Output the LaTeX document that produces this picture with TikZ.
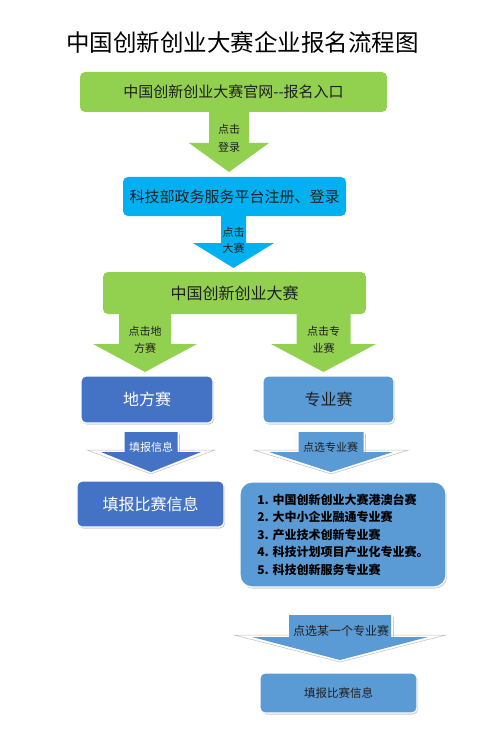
\documentclass[tikz,border=0pt]{standalone}
\usepackage{fontspec}
\setmainfont{Noto Sans CJK SC}
\usetikzlibrary{shadows}
\definecolor{grn}{HTML}{92D050}
\definecolor{cyn}{HTML}{00B0F0}
\definecolor{dkb}{HTML}{4472C4}
\definecolor{ltb}{HTML}{5B9BD5}
\definecolor{ink}{HTML}{1F1F1F}

\begin{document}
\begin{tikzpicture}[x=1pt, y=-1pt,
  box/.style={rounded corners=5pt, inner sep=0pt, align=center, text=ink},
  shbox/.style={box, draw=white, line width=1.2pt,
    drop shadow={shadow xshift=1pt, shadow yshift=-1.5pt, fill=black!40, opacity=0.5}},
  lbl/.style={inner sep=0pt, align=center, text=ink, font=\fontsize{11}{17}\selectfont}]
\useasboundingbox (0,0) rectangle (501,746);

\node[inner sep=0pt, font=\fontsize{23.5}{28}\selectfont] (title) at (242.5,42) {中国创新创业大赛企业报名流程图};

% plain block arrows
\foreach \cx/\yt/\sw/\yb/\hw/\yp/\col in {229/112/20/143/40/172/grn, 233.5/216/12.5/243/40.5/268/cyn,
    145/314/26/344/52/372/grn, 323.5/314/27/344/52.5/372/grn}
  \fill[\col] (\cx-\sw,\yt) -- (\cx+\sw,\yt) -- (\cx+\sw,\yb) -- (\cx+\hw,\yb) -- (\cx,\yp)
    -- (\cx-\hw,\yb) -- (\cx-\sw,\yb) -- cycle;

% bevelled block arrows
\foreach \cx/\yt/\sw/\yb/\hw/\ho/\yp/\col in {151/432/26.5/452/50/64/472/dkb,
    331/432/32.5/452/62/77.5/472/ltb, 340/615/51/637/88/106/660/ltb} {
  \draw[black!25, fill=white, line width=0.5pt] (\cx-\ho,\yb-2) -- (\cx,\yp+2) -- (\cx+\ho,\yb-2) -- cycle;
  \draw[black!20, line width=0.6pt] (\cx+\sw+2,\yt+2) -- (\cx+\sw+2,\yb);
  \fill[\col] (\cx-\sw,\yt) -- (\cx+\sw,\yt) -- (\cx+\sw,\yb) -- (\cx+\hw,\yb) -- (\cx,\yp)
    -- (\cx-\hw,\yb) -- (\cx-\sw,\yb) -- cycle;
}

\node[box, fill=grn, minimum width=307pt, minimum height=40pt, font=\fontsize{15}{18}\selectfont] (site) at (233.5,92)
     {中国创新创业大赛官网-{}-报名入口};
\node[box, fill=cyn, minimum width=223pt, minimum height=39pt, font=\fontsize{15}{18}\selectfont] (login) at (234.5,196.5)
     {科技部政务服务平台注册、登录};
\node[box, fill=grn, minimum width=263pt, minimum height=42pt, font=\fontsize{16}{19}\selectfont] (contest) at (234.5,293)
     {中国创新创业大赛};

\node[shbox, fill=dkb, text=white, minimum width=132pt, minimum height=47pt, font=\fontsize{16}{19}\selectfont] (local) at (147,399.5)
     {地方赛};
\node[shbox, fill=ltb, minimum width=131pt, minimum height=47pt, font=\fontsize{16}{19}\selectfont] (special) at (328.5,399.5)
     {专业赛};
\node[shbox, fill=dkb, text=white, minimum width=147pt, minimum height=46pt, font=\fontsize{16}{19}\selectfont] (fillA) at (150.5,504)
     {填报比赛信息};
\node[shbox, rounded corners=12pt, fill=ltb, minimum width=206pt, minimum height=105pt, align=left,
      text=black, font=\bfseries\fontsize{12}{17.5}\selectfont] (list) at (343,534.5)
     {1. 中国创新创业大赛港澳台赛\\2. 大中小企业融通专业赛\\3. 产业技术创新专业赛\\4. 科技计划项目产业化专业赛。\\5. 科技创新服务专业赛};
\node[shbox, fill=ltb, minimum width=157pt, minimum height=40pt, font=\fontsize{11.5}{14}\selectfont] (fillB) at (338.5,693)
     {填报比赛信息};

% arrow labels
\node[lbl, font=\fontsize{11}{18}\selectfont] (clkA) at (229,138) {点击\\登录};
\node[lbl, font=\fontsize{11}{16}\selectfont] (clkB) at (233.5,240) {点击\\大赛};
\node[lbl] (clkC) at (145,339.5) {点击地\\方赛};
\node[lbl] (clkD) at (323.5,339.5) {点击专\\业赛};
\node[lbl, text=white] (info) at (151,447) {填报信息};
\node[lbl] (pick) at (330.5,447) {点选专业赛};
\node[lbl, font=\fontsize{12}{14}\selectfont] (pickone) at (341,631) {点选某一个专业赛};
\end{tikzpicture}
\end{document}
